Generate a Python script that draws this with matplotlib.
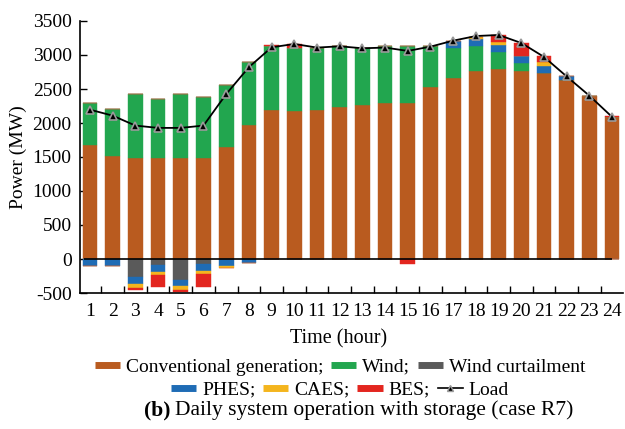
import matplotlib
matplotlib.use("Agg")
import matplotlib.pyplot as plt
import numpy as np
from matplotlib.lines import Line2D

plt.rcParams['font.family'] = ['Liberation Serif', 'DejaVu Serif']
plt.rcParams['axes.unicode_minus'] = False

hours = list(range(1, 25))
conventional = [1680, 1520, 1485, 1485, 1485, 1485, 1650, 1970, 2190, 2170, 2190, 2235,
                2265, 2300, 2290, 2535, 2660, 2770, 2790, 2760, 2735, 2635, 2400, 2085]
wind = [610, 680, 935, 870, 935, 900, 915, 925, 945, 930, 920, 890,
        835, 825, 845, 590, 450, 360, 255, 120, 0, 0, 0, 0]
phes_dis = [0]*16 + [98, 98, 98, 107, 107, 59, 0, 0]
caes_dis = [0]*17 + [39, 49, 0, 59, 0, 0, 0]
bes_dis = [0]*8 + [10, 63] + [0]*8 + [98, 195, 88, 0, 0, 20]
curtail = [0, 0, -268, -88, -307, -73] + [0]*18
phes_ch = [-98, -98, -98, -107, -93, -98, -102, -63] + [0]*16
caes_ch = [0, 0, -63, -39, -49, -54, -34] + [0]*17
bes_ch = [0, 0, -34, -180, -39, -190] + [0]*8 + [-68] + [0]*9
load = [2196, 2108, 1962, 1928, 1928, 1962, 2425, 2821, 3113, 3162, 3109, 3128,
        3099, 3109, 3060, 3123, 3211, 3279, 3294, 3177, 2972, 2684, 2401, 2089]

c_conv = '#B95B1F'
c_wind = '#22A64F'
c_curt = '#5A5A5A'
c_phes = '#1F6CB5'
c_caes = '#F4B51E'
c_bes = '#E3261F'

fig = plt.figure(figsize=(6.25, 4.29), dpi=100)
ax = fig.add_axes([80/625, 1-293/429, 543/625, 272/429])

x = np.array(hours)
w = 0.65
pos = np.zeros(24)
for vals, col in [(conventional, c_conv), (wind, c_wind), (phes_dis, c_phes),
                  (caes_dis, c_caes), (bes_dis, c_bes)]:
    v = np.array(vals, dtype=float)
    ax.bar(x, v, w, bottom=pos, color=col, edgecolor=col, linewidth=0.3, zorder=2)
    pos += v
neg = np.zeros(24)
for vals, col in [(curtail, c_curt), (phes_ch, c_phes), (caes_ch, c_caes), (bes_ch, c_bes)]:
    v = np.array(vals, dtype=float)
    ax.bar(x, v, w, bottom=neg, color=col, edgecolor=col, linewidth=0.3, zorder=2)
    neg += v

ax.hlines(0, 0.72, 24, color='black', lw=1.2, zorder=3)
ax.plot(x, load, color='black', lw=1.3, marker='^', markersize=6,
        markerfacecolor='black', markeredgecolor='#9a9a9a', markeredgewidth=1.2, zorder=4)

ax.set_xlim(0.56, 24.48)
ax.set_ylim(-500, 3500)
ax.set_yticks(range(-500, 3501, 500))
ax.set_xticks(hours)
ax.set_xticks(np.arange(1.5, 24.5, 1), minor=True)
ax.tick_params(axis='x', which='major', length=0, labelsize=14, pad=7)
ax.tick_params(axis='x', which='minor', direction='in', length=5, width=1)
ax.tick_params(axis='y', direction='in', length=5, width=1, labelsize=14, pad=6)
for s in ['top', 'right']:
    ax.spines[s].set_visible(False)
for s in ['left', 'bottom']:
    ax.spines[s].set_linewidth(1.2)

ax.set_ylabel('Power (MW)', fontsize=14, labelpad=4)
ax.set_xlabel('Time (hour)', fontsize=14.5)
ax.xaxis.set_label_coords((339-80)/543, -0.135)

def patch(c):
    return Line2D([], [], color=c, lw=5, solid_capstyle='butt')

h1 = [patch(c_conv), patch(c_wind), patch(c_curt)]
l1 = ['Conventional generation;', 'Wind;', 'Wind curtailment']
h2 = [patch(c_phes), patch(c_caes), patch(c_bes),
      Line2D([], [], color='black', lw=1.2, marker='^', markersize=4,
             markerfacecolor='black', markeredgecolor='#9a9a9a')]
l2 = ['PHES;', 'CAES;', 'BES;', 'Load']
leg1 = fig.legend(h1, l1, loc='center', bbox_to_anchor=(340/625, 1-367/429), ncol=3,
                  frameon=False, fontsize=14, handlelength=1.3, handletextpad=0.3,
                  columnspacing=0.4, borderpad=0, borderaxespad=0)
leg2 = fig.legend(h2, l2, loc='center', bbox_to_anchor=(340/625, 1-390/429), ncol=4,
                  frameon=False, fontsize=14, handlelength=1.3, handletextpad=0.3,
                  columnspacing=0.4, borderpad=0, borderaxespad=0)

fig.text(144/625, 1-410/429, '(b)', fontsize=15.5, fontweight='bold', ha='left', va='center')
fig.text(175/625, 1-410/429, 'Daily system operation with storage (case R7)', fontsize=15.5,
         ha='left', va='center')

fig.savefig('out.png', dpi=100)
